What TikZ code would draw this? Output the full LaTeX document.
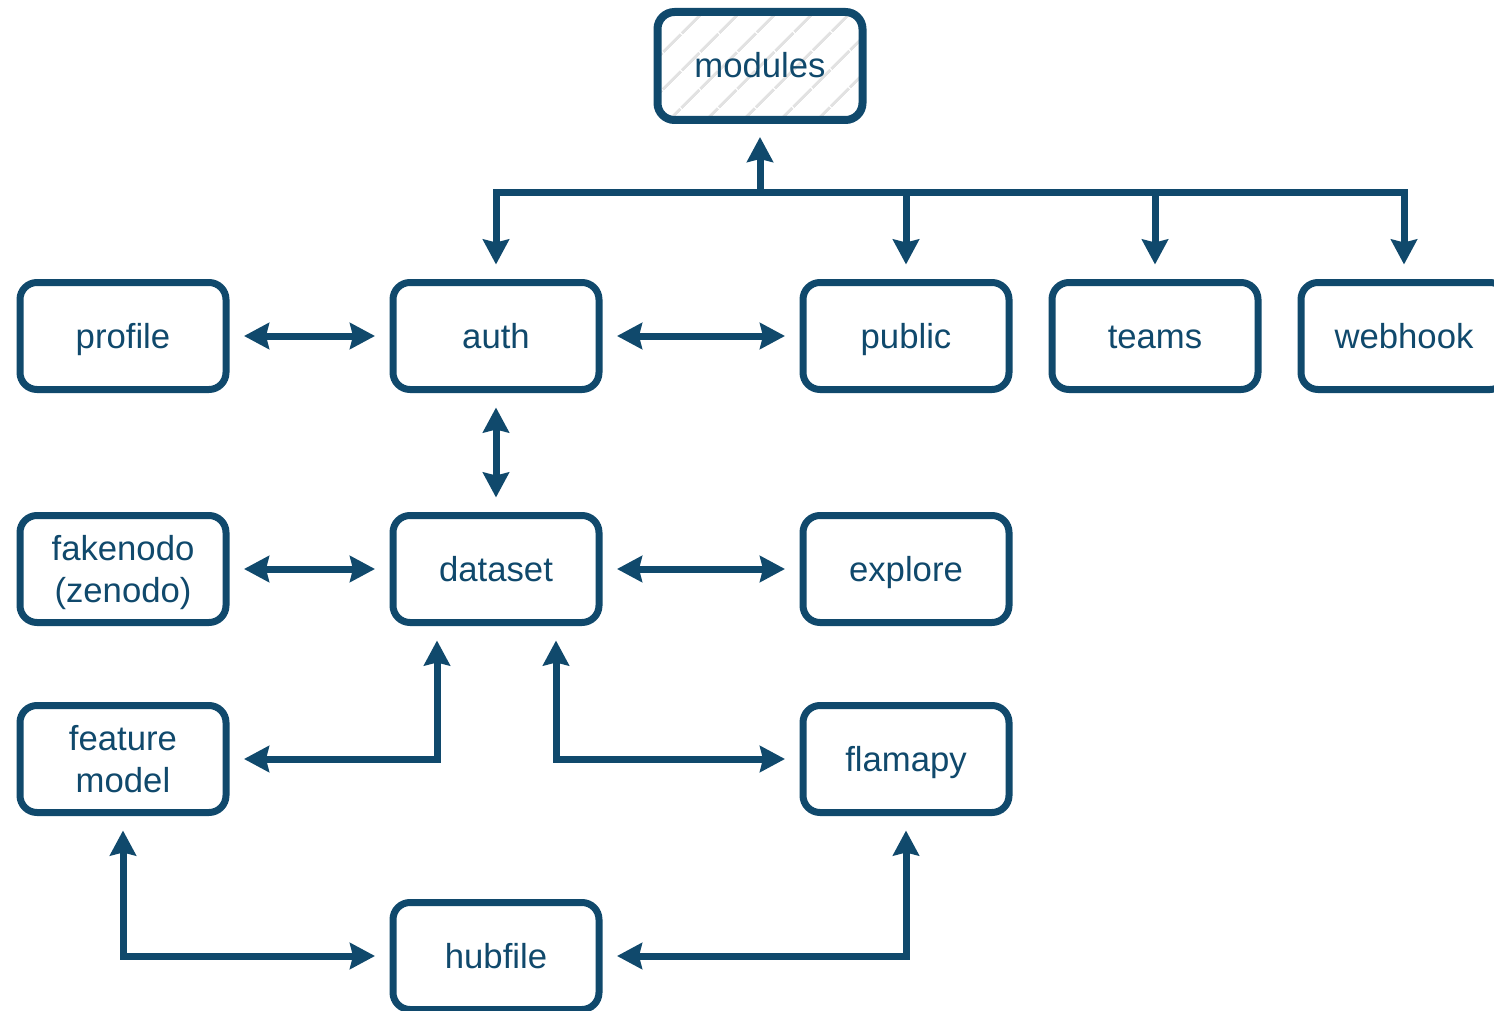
\documentclass[tikz,border=0pt]{standalone}
\usepackage{fontspec}
\setmainfont{Liberation Sans}
\usetikzlibrary{arrows.meta,patterns.meta}
\definecolor{ink}{RGB}{16,73,108}
\definecolor{hatch}{RGB}{226,226,226}
\begin{document}
\begin{tikzpicture}[x=1pt,y=-1pt,
  box/.style={draw=ink, line width=7pt, rounded corners=17pt, fill=white,
    minimum width=206pt, minimum height=107pt, inner sep=0pt, outer sep=18pt,
    text=ink, align=center,
    font=\fontsize{34.7}{42.5}\selectfont},
  oneline/.style={box, text height=31pt, text depth=7pt},
  link/.style={draw=ink, line width=7pt},
  tip/.style={-{Stealth[length=25pt,width=26pt,inset=3pt]}},
  both/.style={{Stealth[length=25pt,width=26pt,inset=3pt]}-{Stealth[length=25pt,width=26pt,inset=3pt]}}]
\useasboundingbox (0,0) rectangle (1494,1011);

% top module
\node[oneline, line width=8pt, pattern={Lines[angle=45,distance=27pt,line width=3pt]},
  pattern color=hatch, minimum width=205pt, minimum height=108pt, outer sep=17pt]
  (modules) at (760,66) {modules};

% first row
\node[oneline] (profile) at (123,336) {profile};
\node[oneline] (auth)    at (496,336) {auth};
\node[oneline] (public)  at (906,336) {public};
\node[oneline] (teams)   at (1155,336) {teams};
\node[oneline] (webhook) at (1404,336) {webhook};

% second row
\node[box]     (fakenodo) at (123,569) {fakenodo\\\smash{(zenodo)}};
\node[oneline] (dataset)  at (496,569) {dataset};
\node[oneline] (explore)  at (906,569) {explore};

% third row
\node[box]     (fm)      at (123,759) {feature\\model};
\node[oneline] (flamapy) at (906,759) {flamapy};

% bottom
\node[oneline] (hubfile) at (496,956) {hubfile};

% tree under modules
\coordinate (bus) at (760,193);
\draw[link, tip] (bus) -- (modules.south);
\draw[link, line cap=rect] (auth.north |- bus) -- (webhook.north |- bus);
\foreach \n in {auth,public,teams,webhook}
  \draw[link, tip] (\n.north |- bus) -- (\n.north);

% horizontal and vertical links
\draw[link, both] (profile.east) -- (auth.west);
\draw[link, both] (auth.east) -- (public.west);
\draw[link, both] (auth.south) -- (dataset.north);
\draw[link, both] (fakenodo.east) -- (dataset.west);
\draw[link, both] (dataset.east) -- (explore.west);

% elbow links
\draw[link, both] ([xshift=-59pt]dataset.south) |- (fm.east);
\draw[link, both] ([xshift=60pt]dataset.south) |- (flamapy.west);
\draw[link, both] (fm.south) |- (hubfile.west);
\draw[link, both] (hubfile.east) -| (flamapy.south);
\end{tikzpicture}
\end{document}
